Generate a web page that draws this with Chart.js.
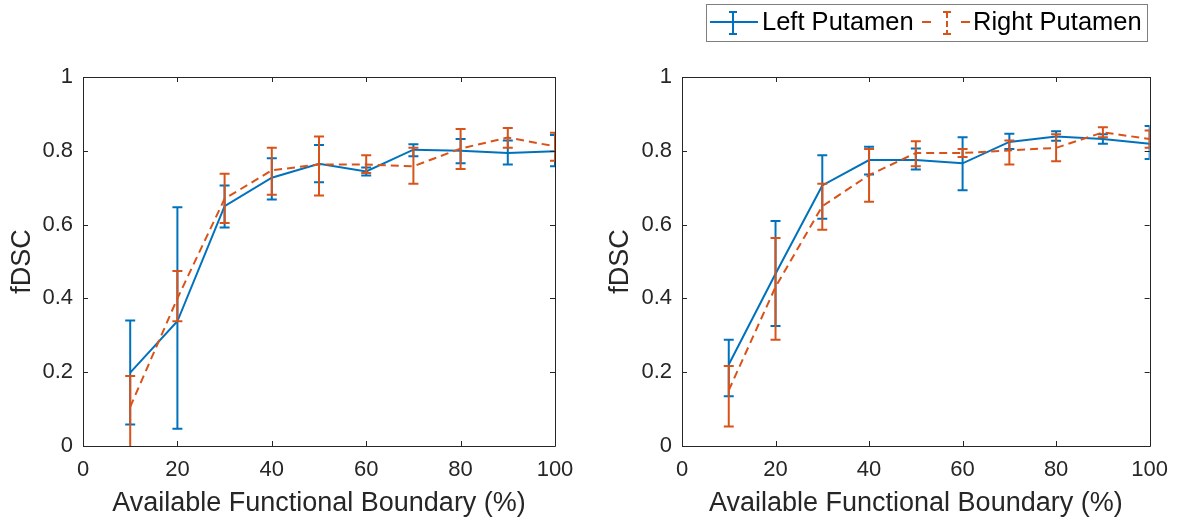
<!DOCTYPE html>
<html>
<head>
<meta charset="utf-8">
<script src="https://cdn.jsdelivr.net/npm/chart.js@4"></script>
<style>
body { margin: 0; background: #fff; }
#wl { position: absolute; left: 0; top: 0; }
#wr { position: absolute; left: 600px; top: 0; }
</style>
</head>
<body>
<div id="wl"><canvas id="leftChart" width="600" height="523"></canvas></div>
<div id="wr"><canvas id="rightChart" width="579" height="523"></canvas></div>
<script>
var boundary = [10, 20, 30, 40, 50, 60, 70, 80, 90, 100];
var xTicks = [0, 20, 40, 60, 80, 100];
var yTicks = [0, 0.2, 0.4, 0.6, 0.8, 1];
var seriesNames = ['Left Putamen', 'Right Putamen'];

// left panel
var lpMeanA = [0.199, 0.338, 0.650, 0.727, 0.765, 0.744, 0.803, 0.800, 0.794, 0.799];
var lpLowA  = [0.058, 0.047, 0.592, 0.668, 0.715, 0.733, 0.785, 0.766, 0.763, 0.758];
var lpHighA = [0.340, 0.647, 0.706, 0.780, 0.816, 0.755, 0.818, 0.832, 0.828, 0.843];
var rpMeanA = [0.106, 0.400, 0.670, 0.747, 0.763, 0.763, 0.758, 0.806, 0.836, 0.812];
var rpLowA  = [-0.02, 0.338, 0.604, 0.681, 0.679, 0.740, 0.711, 0.751, 0.808, 0.773];
var rpHighA = [0.190, 0.474, 0.738, 0.808, 0.839, 0.788, 0.808, 0.859, 0.862, 0.849];

// right panel
var lpMeanB = [0.221, 0.467, 0.706, 0.775, 0.775, 0.766, 0.824, 0.839, 0.832, 0.819];
var lpLowB  = [0.135, 0.325, 0.616, 0.736, 0.749, 0.693, 0.805, 0.827, 0.819, 0.778];
var lpHighB = [0.288, 0.610, 0.788, 0.811, 0.806, 0.837, 0.846, 0.853, 0.845, 0.867];
var rpMeanB = [0.151, 0.431, 0.650, 0.734, 0.794, 0.794, 0.801, 0.808, 0.850, 0.832];
var rpLowB  = [0.053, 0.288, 0.586, 0.662, 0.758, 0.783, 0.763, 0.772, 0.837, 0.808];
var rpHighB = [0.217, 0.564, 0.711, 0.805, 0.826, 0.805, 0.828, 0.845, 0.864, 0.855];

var BLUE = '#0072BD';
var ORANGE = '#D95319';
var INK = '#262626';

Chart.defaults.font.family = '"Liberation Sans", Arial, sans-serif';
Chart.defaults.color = INK;

function pts(ys) {
    return boundary.map(function (x, i) { return {x: x, y: ys[i]}; });
}

// vertical error bars with caps
var errorBars = {
    id: 'errorBars',
    afterDatasetDraw: function (chart, args) {
        var ds = chart.data.datasets[args.index];
        var xs = chart.scales.x, ys = chart.scales.y, a = chart.chartArea;
        var ctx = chart.ctx;
        ctx.save();
        ctx.beginPath();
        ctx.rect(a.left, a.top, a.right - a.left, a.bottom - a.top + 1);
        ctx.clip();
        ctx.strokeStyle = ds.borderColor;
        ctx.lineWidth = 2;
        ctx.setLineDash([]);
        for (var i = 0; i < boundary.length; i++) {
            var x = xs.getPixelForValue(boundary[i]);
            var lo = ys.getPixelForValue(ds.errLow[i]);
            var hi = ys.getPixelForValue(ds.errHigh[i]);
            ctx.beginPath();
            ctx.moveTo(x, lo); ctx.lineTo(x, hi);
            ctx.moveTo(x - 5, lo); ctx.lineTo(x + 5, lo);
            ctx.moveTo(x - 5, hi); ctx.lineTo(x + 5, hi);
            ctx.stroke();
        }
        ctx.restore();
    }
};

// matlab style box with inward ticks
var axesBox = {
    id: 'axesBox',
    afterDraw: function (chart) {
        var a = chart.chartArea, ctx = chart.ctx;
        var xs = chart.scales.x, ys = chart.scales.y;
        ctx.save();
        ctx.strokeStyle = INK;
        ctx.lineWidth = 1;
        ctx.beginPath();
        ctx.rect(Math.round(a.left) + 0.5, Math.round(a.top) + 0.5,
                 Math.round(a.right - a.left), Math.round(a.bottom - a.top));
        xTicks.forEach(function (v) {
            var x = Math.round(xs.getPixelForValue(v)) + 0.5;
            ctx.moveTo(x, a.bottom); ctx.lineTo(x, a.bottom - 5);
            ctx.moveTo(x, a.top); ctx.lineTo(x, a.top + 5);
        });
        yTicks.forEach(function (v) {
            var y = Math.round(ys.getPixelForValue(v)) + 0.5;
            ctx.moveTo(a.left, y); ctx.lineTo(a.left + 5, y);
            ctx.moveTo(a.right, y); ctx.lineTo(a.right - 5, y);
        });
        ctx.stroke();
        ctx.restore();
    }
};

var matLegend = {
    id: 'matLegend',
    afterDraw: function (chart) {
        var ctx = chart.ctx;
        ctx.save();
        ctx.fillStyle = '#fff';
        ctx.fillRect(106, 4, 441, 37);
        ctx.strokeStyle = '#7f7f7f';
        ctx.lineWidth = 1;
        ctx.strokeRect(106.5, 4.5, 441, 37);

        ctx.lineWidth = 2;
        ctx.strokeStyle = BLUE;
        ctx.beginPath();
        ctx.moveTo(110, 22); ctx.lineTo(158, 22);
        ctx.moveTo(133, 12); ctx.lineTo(133, 34);
        ctx.moveTo(129, 12); ctx.lineTo(137, 12);
        ctx.moveTo(129, 34); ctx.lineTo(137, 34);
        ctx.stroke();

        ctx.strokeStyle = ORANGE;
        ctx.setLineDash([9, 30]);
        ctx.beginPath();
        ctx.moveTo(322, 22); ctx.lineTo(371, 22);
        ctx.stroke();
        ctx.setLineDash([6, 3]);
        ctx.beginPath();
        ctx.moveTo(347, 12); ctx.lineTo(347, 34);
        ctx.stroke();
        ctx.setLineDash([]);
        ctx.beginPath();
        ctx.moveTo(343, 12); ctx.lineTo(351, 12);
        ctx.moveTo(343, 34); ctx.lineTo(351, 34);
        ctx.stroke();

        ctx.fillStyle = '#000';
        ctx.font = '25.5px "Liberation Sans", Arial, sans-serif';
        ctx.textBaseline = 'middle';
        ctx.fillText(seriesNames[0], 162, 23);
        ctx.fillText(seriesNames[1], 373, 23);
        ctx.restore();
    }
};

function makePanel(id, lpMean, lpLow, lpHigh, rpMean, rpLow, rpHigh, padRight, yWidth, yTitlePad, withLegend) {
    var plugins = [errorBars, axesBox];
    if (withLegend) plugins.push(matLegend);
    return new Chart(document.getElementById(id), {
        type: 'line',
        data: {
            datasets: [
                {
                    label: seriesNames[0],
                    data: pts(lpMean),
                    errLow: lpLow,
                    errHigh: lpHigh,
                    borderColor: BLUE,
                    backgroundColor: 'transparent',
                    borderWidth: 2,
                    pointRadius: 0,
                    order: 2
                },
                {
                    label: seriesNames[1],
                    data: pts(rpMean),
                    errLow: rpLow,
                    errHigh: rpHigh,
                    borderColor: ORANGE,
                    backgroundColor: 'transparent',
                    borderWidth: 2,
                    borderDash: [8, 5],
                    pointRadius: 0,
                    order: 1
                }
            ]
        },
        options: {
            responsive: false,
            animation: false,
            layout: { padding: { top: 77, right: padRight, left: 0, bottom: 0 } },
            plugins: {
                legend: { display: false },
                tooltip: { enabled: false }
            },
            elements: { line: { tension: 0 } },
            scales: {
                x: {
                    type: 'linear',
                    min: 0,
                    max: 100,
                    afterBuildTicks: function (s) { s.ticks = xTicks.map(function (v) { return {value: v}; }); },
                    afterFit: function (s) { s.height = 77; },
                    grid: { display: false, drawTicks: false },
                    border: { display: false },
                    ticks: { padding: 11, font: { size: 22 }, color: INK, maxRotation: 0 },
                    title: {
                        display: true,
                        text: 'Available Functional Boundary (%)',
                        font: { size: 27 },
                        color: INK,
                        padding: 3
                    }
                },
                y: {
                    min: 0,
                    max: 1,
                    afterBuildTicks: function (s) { s.ticks = yTicks.map(function (v) { return {value: v}; }); },
                    afterFit: function (s) { s.width = yWidth; },
                    grid: { display: false, drawTicks: false },
                    border: { display: false },
                    ticks: {
                        padding: 10,
                        font: { size: 22 },
                        color: INK,
                        callback: function (v) { return String(v); }
                    },
                    title: {
                        display: true,
                        text: 'fDSC',
                        font: { size: 27 },
                        color: INK,
                        padding: yTitlePad
                    }
                }
            }
        },
        plugins: plugins
    });
}

makePanel('leftChart', lpMeanA, lpLowA, lpHighA, rpMeanA, rpLowA, rpHighA, 45, 83, 6, false);
makePanel('rightChart', lpMeanB, lpLowB, lpHighB, rpMeanB, rpLowB, rpHighB, 25, 82, 4, true);
</script>
</body>
</html>
